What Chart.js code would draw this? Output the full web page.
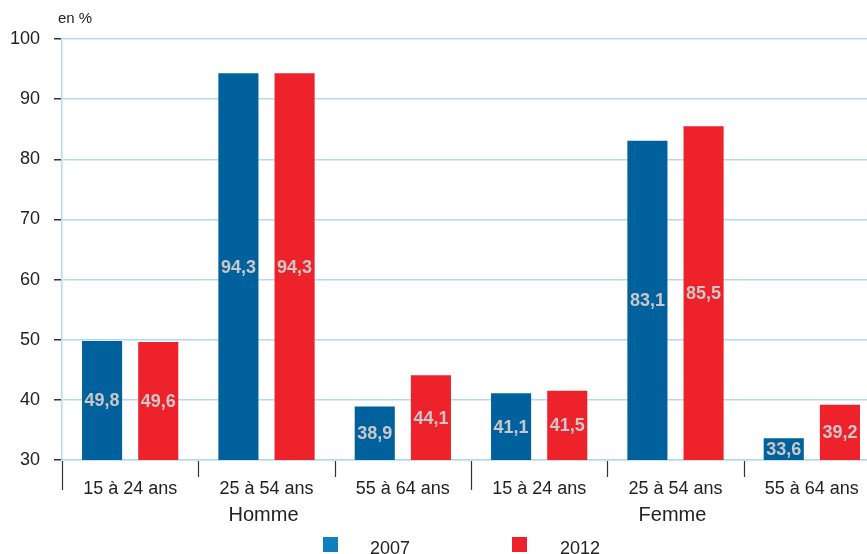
<!DOCTYPE html>
<html>
<head>
<meta charset="utf-8">
<script src="https://cdn.jsdelivr.net/npm/chart.js"></script>
<style>
  html, body { margin: 0; padding: 0; background: #fff; overflow: hidden; width: 867px; height: 554px; }
  canvas { display: block; }
</style>
</head>
<body>
<canvas id="chart" width="880" height="554"></canvas>
<script>
// Values (en %)
const categories = ['15 à 24 ans', '25 à 54 ans', '55 à 64 ans', '15 à 24 ans', '25 à 54 ans', '55 à 64 ans'];
const groups = ['Homme', 'Femme'];
const values2007 = [49.8, 94.3, 38.9, 41.1, 83.1, 33.6];
const values2012 = [49.6, 94.3, 44.1, 41.5, 85.5, 39.2];
const seriesLabels = ['2007', '2012'];
const yTicks = [30, 40, 50, 60, 70, 80, 90, 100];

const FONT = '"Liberation Sans", Arial, Helvetica, sans-serif';
const BLUE = '#00619d';
const RED = '#ee222b';
const LEGEND_COLORS = ['#0f7fc0', '#ee222b'];
const GRID = '#b3dbf0';
const TEXT = '#222222';

const fmt = v => v.toFixed(1).replace('.', ',');

// labels inside bars, tick marks on x axis, group names, legend
const extras = {
  id: 'extras',
  afterDatasetsDraw(chart) {
    const ctx = chart.ctx;
    const area = chart.chartArea;
    ctx.save();
    ctx.font = 'bold 18px ' + FONT;
    ctx.fillStyle = '#c8c8c8';
    ctx.textAlign = 'center';
    ctx.textBaseline = 'middle';
    chart.data.datasets.forEach((ds, di) => {
      chart.getDatasetMeta(di).data.forEach((bar, i) => {
        const mid = (bar.y + area.bottom) / 2;
        ctx.fillText(fmt(ds.data[i]), bar.x, mid + 1);
      });
    });
    ctx.restore();
  },
  afterDraw(chart) {
    const ctx = chart.ctx;
    const x = chart.scales.x;
    const area = chart.chartArea;
    const cw = (x.right - x.left) / categories.length;
    ctx.save();
    // x tick marks: long at group boundaries
    ctx.strokeStyle = '#333';
    ctx.lineWidth = 1.2;
    for (let i = 0; i <= categories.length; i++) {
      const px = Math.round(x.left + i * cw) + 0.5;
      const long = i % 3 === 0;
      ctx.beginPath();
      ctx.moveTo(px, area.bottom + 1);
      ctx.lineTo(px, area.bottom + (long ? 30 : 17));
      ctx.stroke();
    }
    // group labels
    ctx.fillStyle = TEXT;
    ctx.font = '20px ' + FONT;
    ctx.textAlign = 'center';
    ctx.textBaseline = 'middle';
    groups.forEach((g, gi) => {
      ctx.fillText(g, x.getPixelForValue(gi * 3 + 1) - 3, 515);
    });
    // unit label
    ctx.font = '15px ' + FONT;
    ctx.textAlign = 'left';
    ctx.fillText('en %', 58, 19);
    // legend
    const legendX = [323, 512];
    const textX = [370, 560];
    ctx.font = '18px ' + FONT;
    seriesLabels.forEach((lab, i) => {
      ctx.fillStyle = LEGEND_COLORS[i];
      ctx.fillRect(legendX[i], 537, 15, 15);
      ctx.fillStyle = TEXT;
      ctx.fillText(lab, textX[i], 549);
    });
    ctx.restore();
  }
};

new Chart(document.getElementById('chart'), {
  type: 'bar',
  data: {
    labels: categories,
    datasets: [
      { label: seriesLabels[0], data: values2007, backgroundColor: BLUE },
      { label: seriesLabels[1], data: values2012, backgroundColor: RED }
    ]
  },
  options: {
    responsive: false,
    animation: false,
    devicePixelRatio: 1,
    categoryPercentage: 0.824,
    barPercentage: 0.714,
    layout: { padding: { top: 39, right: 0, left: 0, bottom: 0 } },
    plugins: {
      legend: { display: false },
      tooltip: { enabled: false }
    },
    scales: {
      x: {
        grid: { display: false, drawTicks: false },
        border: { color: GRID, width: 1.5 },
        ticks: {
          color: TEXT,
          font: { family: FONT, size: 18 },
          padding: 18,
          maxRotation: 0,
          autoSkip: false
        },
        afterFit: s => { s.height = 94; }
      },
      y: {
        min: 30,
        max: 100,
        afterBuildTicks: s => { s.ticks = yTicks.map(v => ({ value: v })); },
        grid: { color: GRID, lineWidth: 1.5, tickColor: '#333', tickLength: 8 },
        border: { color: GRID, width: 1.5 },
        ticks: {
          color: TEXT,
          font: { family: FONT, size: 18 },
          padding: 14
        },
        afterFit: s => { s.width = 62; }
      }
    }
  },
  plugins: [extras]
});
</script>
</body>
</html>
